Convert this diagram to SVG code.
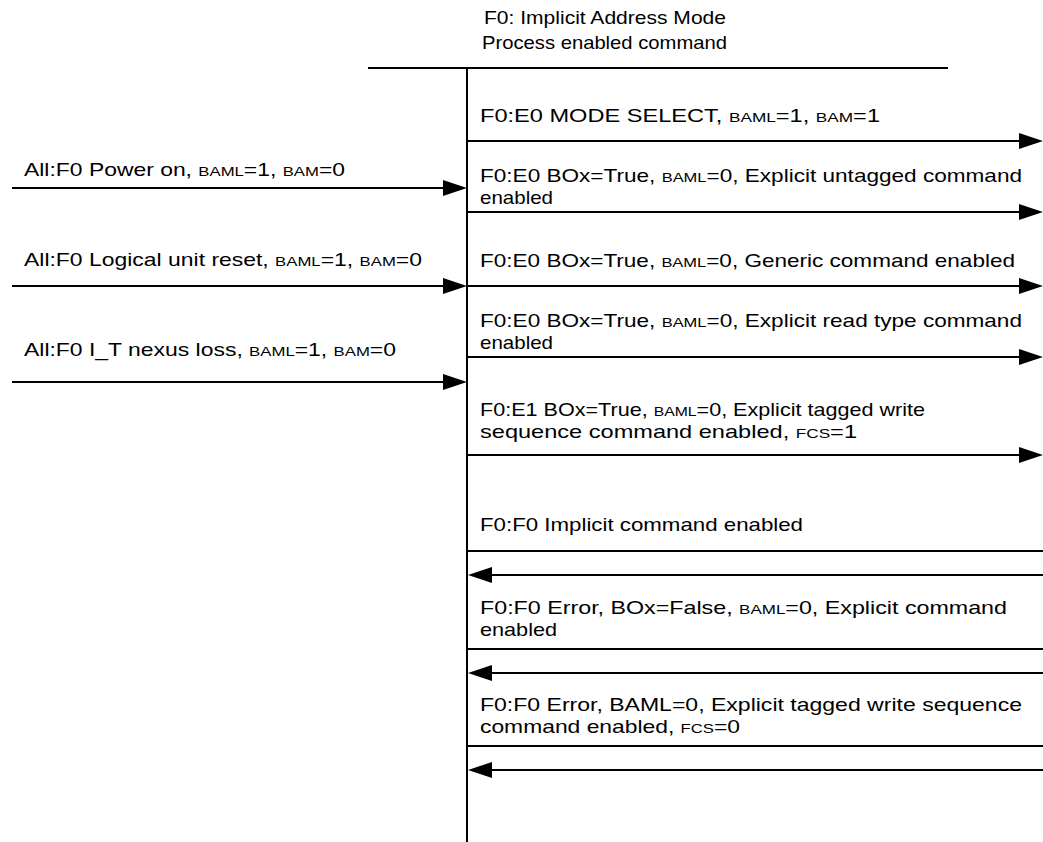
<svg xmlns="http://www.w3.org/2000/svg" width="1043" height="842" viewBox="0 0 1043 842">
<style>
text{font-family:"Liberation Sans",Arial,sans-serif;font-size:18.5px;fill:#000}
.sc{font-size:13.5px}
.ln{stroke:#000;stroke-width:2;fill:none}
.ah{fill:#000;stroke:none}
</style>
<rect width="1043" height="842" fill="#fff"/>
<g id="title">
<text x="484" y="24" textLength="242" lengthAdjust="spacingAndGlyphs">F0: Implicit Address Mode</text>
<text x="482" y="49" textLength="245" lengthAdjust="spacingAndGlyphs">Process enabled command</text>
</g>
<g id="lifeline">
<line class="ln" x1="368" y1="68" x2="948" y2="68"/>
<line class="ln" x1="467" y1="68" x2="467" y2="842"/>
</g>
<g id="connectors">
<line class="ln" x1="12" y1="188" x2="448" y2="188"/><path class="ah" d="M467 188 L443 180 L443 196 Z"/>
<line class="ln" x1="12" y1="286" x2="448" y2="286"/><path class="ah" d="M467 286 L443 278 L443 294 Z"/>
<line class="ln" x1="12" y1="382" x2="448" y2="382"/><path class="ah" d="M467 382 L443 374 L443 390 Z"/>
<line class="ln" x1="467" y1="141" x2="1024" y2="141"/><path class="ah" d="M1043 141 L1019 133 L1019 149 Z"/>
<line class="ln" x1="467" y1="212" x2="1024" y2="212"/><path class="ah" d="M1043 212 L1019 204 L1019 220 Z"/>
<line class="ln" x1="467" y1="286" x2="1024" y2="286"/><path class="ah" d="M1043 286 L1019 278 L1019 294 Z"/>
<line class="ln" x1="467" y1="357" x2="1024" y2="357"/><path class="ah" d="M1043 357 L1019 349 L1019 365 Z"/>
<line class="ln" x1="467" y1="455" x2="1024" y2="455"/><path class="ah" d="M1043 455 L1019 447 L1019 463 Z"/>
<line class="ln" x1="467" y1="551" x2="1043" y2="551"/>
<line class="ln" x1="486" y1="575" x2="1043" y2="575"/><path class="ah" d="M468 575 L492 567 L492 583 Z"/>
<line class="ln" x1="467" y1="649" x2="1043" y2="649"/>
<line class="ln" x1="486" y1="673" x2="1043" y2="673"/><path class="ah" d="M468 673 L492 665 L492 681 Z"/>
<line class="ln" x1="467" y1="746" x2="1043" y2="746"/>
<line class="ln" x1="486" y1="770" x2="1043" y2="770"/><path class="ah" d="M468 770 L492 762 L492 778 Z"/>
</g>
<g id="labels-left">
<text x="24" y="176" textLength="321" lengthAdjust="spacingAndGlyphs">All:F0 Power on, <tspan class="sc">BAML</tspan>=1, <tspan class="sc">BAM</tspan>=0</text>
<text x="24" y="266" textLength="398" lengthAdjust="spacingAndGlyphs">All:F0 Logical unit reset, <tspan class="sc">BAML</tspan>=1, <tspan class="sc">BAM</tspan>=0</text>
<text x="24" y="356" textLength="372" lengthAdjust="spacingAndGlyphs">All:F0 I_T nexus loss, <tspan class="sc">BAML</tspan>=1, <tspan class="sc">BAM</tspan>=0</text>
</g>
<g id="labels-right">
<text x="480" y="122" textLength="400" lengthAdjust="spacingAndGlyphs">F0:E0 MODE SELECT, <tspan class="sc">BAML</tspan>=1, <tspan class="sc">BAM</tspan>=1</text>
<text x="480" y="182" textLength="542" lengthAdjust="spacingAndGlyphs">F0:E0 BOx=True, <tspan class="sc">BAML</tspan>=0, Explicit untagged command</text>
<text x="480" y="204" textLength="73" lengthAdjust="spacingAndGlyphs">enabled</text>
<text x="480" y="267" textLength="535" lengthAdjust="spacingAndGlyphs">F0:E0 BOx=True, <tspan class="sc">BAML</tspan>=0, Generic command enabled</text>
<text x="480" y="327" textLength="542" lengthAdjust="spacingAndGlyphs">F0:E0 BOx=True, <tspan class="sc">BAML</tspan>=0, Explicit read type command</text>
<text x="480" y="349" textLength="73" lengthAdjust="spacingAndGlyphs">enabled</text>
<text x="480" y="416" textLength="445" lengthAdjust="spacingAndGlyphs">F0:E1 BOx=True, <tspan class="sc">BAML</tspan>=0, Explicit tagged write</text>
<text x="480" y="438" textLength="377" lengthAdjust="spacingAndGlyphs">sequence command enabled, <tspan class="sc">FCS</tspan>=1</text>
<text x="480" y="531" textLength="323" lengthAdjust="spacingAndGlyphs">F0:F0 Implicit command enabled</text>
<text x="480" y="614" textLength="527" lengthAdjust="spacingAndGlyphs">F0:F0 Error, BOx=False, <tspan class="sc">BAML</tspan>=0, Explicit command</text>
<text x="480" y="636" textLength="77" lengthAdjust="spacingAndGlyphs">enabled</text>
<text x="480" y="711" textLength="542" lengthAdjust="spacingAndGlyphs">F0:F0 Error, BAML=0, Explicit tagged write sequence</text>
<text x="480" y="733" textLength="260" lengthAdjust="spacingAndGlyphs">command enabled, <tspan class="sc">FCS</tspan>=0</text>
</g>
</svg>
